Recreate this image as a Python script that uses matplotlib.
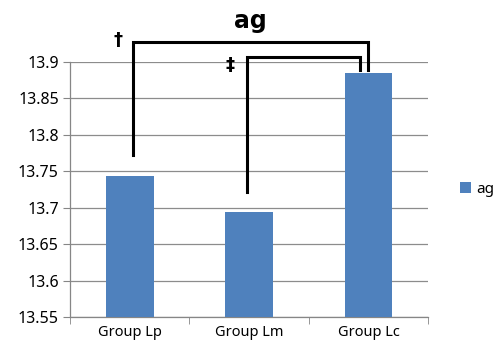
import matplotlib
matplotlib.use("Agg")
import matplotlib.pyplot as plt
import numpy as np

categories = ["Group Lp", "Group Lm", "Group Lc"]
values = [13.743, 13.694, 13.885]
yticks = [13.55, 13.6, 13.65, 13.7, 13.75, 13.8, 13.85, 13.9]
ytick_labels = ["13.55", "13.6", "13.65", "13.7", "13.75", "13.8", "13.85", "13.9"]
series_name = "ag"

plt.rcParams['font.family'] = ['Noto Sans', 'DejaVu Sans']
fig = plt.figure(figsize=(4.95, 3.54), dpi=100)
ax = fig.add_axes([0.1414, 0.1045, 0.7236, 0.7205])
x = np.arange(len(categories))
color = "#4F81BD"
ax.bar(x, values, width=0.4, color=color, label=series_name, zorder=3)
ax.set_xlim(-0.5, 2.5)
ax.set_ylim(13.55, 13.9)
ax.set_yticks(yticks)
ax.set_yticklabels(ytick_labels, fontsize=11.5)
ax.set_xticks(x)
ax.set_xticklabels(categories, fontsize=10.5)
ax.tick_params(axis='x', length=0, pad=6)
ax.tick_params(axis='y', length=5, color="#868686", pad=3)
ax.set_xticks([-0.5, 0.5, 1.5, 2.5], minor=True)
ax.tick_params(axis='x', which='minor', length=5, color="#868686")
ax.grid(axis='y', color="#8c8c8c", lw=0.9, zorder=0)
for s in ["top", "right"]:
    ax.spines[s].set_visible(False)
for s in ["left", "bottom"]:
    ax.spines[s].set_color("#868686")
    ax.spines[s].set_linewidth(0.9)

# significance brackets
kw = dict(color="black", lw=2.2, clip_on=False, zorder=5, solid_joinstyle='miter')
ax.plot([0.025, 0.025, 2.0, 2.0], [13.772, 13.9275, 13.9275, 13.889], **kw)
ax.plot([0.98, 0.98, 1.93, 1.93], [13.721, 13.907, 13.907, 13.889], **kw)
ax.text(-0.1, 13.93, "†", fontsize=13, fontweight='bold', ha='center', va='center', family='DejaVu Sans')
ax.text(0.84, 13.896, "‡", fontsize=13, fontweight='bold', ha='center', va='center', family='DejaVu Sans')
fig.text(0.505, 0.94, "ag", fontsize=17, fontweight='bold', ha='center', va='center', family='DejaVu Sans')

ax.legend(loc='center left', bbox_to_anchor=(1.05, 0.5), frameon=False, fontsize=11,
          handlelength=0.7, handleheight=0.7, handletextpad=0.4)
fig.savefig("out.png", dpi=100)
